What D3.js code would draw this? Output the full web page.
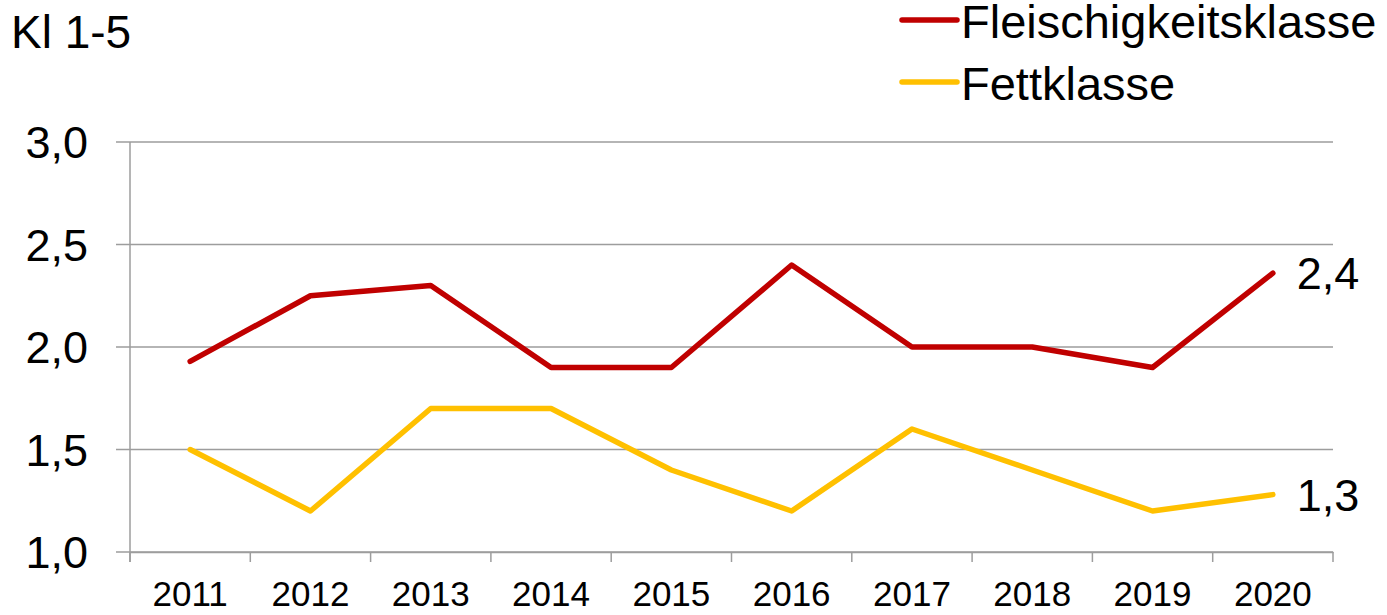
<!DOCTYPE html>
<html>
<head>
<meta charset="utf-8">
<script src="https://cdn.jsdelivr.net/npm/d3@7"></script>
<style>
  body { margin: 0; background: #fff; }
  text { font-family: "Liberation Sans", Arial, sans-serif; fill: #000; }
</style>
</head>
<body>
<div id="chart"></div>
<script>
const years = ["2011", "2012", "2013", "2014", "2015", "2016", "2017", "2018", "2019", "2020"];
const fleisch = [1.93, 2.25, 2.30, 1.90, 1.90, 2.40, 2.00, 2.00, 1.90, 2.36];
const fett = [1.50, 1.20, 1.70, 1.70, 1.40, 1.20, 1.60, 1.40, 1.20, 1.28];
const yTicks = [1.0, 1.5, 2.0, 2.5, 3.0];
const seriesNames = ["Fleischigkeitsklasse", "Fettklasse"];
const endLabels = ["2,4", "1,3"];

const W = 1387, H = 615;
const margin = { top: 142, right: 54, bottom: 63, left: 130 };
const width = W - margin.left - margin.right,
    height = H - margin.top - margin.bottom;

const colors = ["#C00000", "#FFC000"];
const fmt = d => d3.format(".1f")(d).replace(".", ",");

const svg = d3.select("#chart").append("svg")
    .attr("width", W)
    .attr("height", H);

const g = svg.append("g")
    .attr("transform", `translate(${margin.left},${margin.top})`);

const x = d3.scaleBand().domain(years).range([0, width]);
const y = d3.scaleLinear().domain([1, 3]).range([height, 0]);

// gridlines
g.append("g")
    .selectAll("line")
    .data(yTicks)
    .join("line")
    .attr("x1", -14)
    .attr("x2", width)
    .attr("y1", d => y(d))
    .attr("y2", d => y(d))
    .attr("stroke", "#9d9d9d")
    .attr("stroke-width", 1.5);

// y axis line
g.append("line")
    .attr("x1", 0).attr("x2", 0)
    .attr("y1", 0).attr("y2", height + 10)
    .attr("stroke", "#9d9d9d")
    .attr("stroke-width", 1.5);

// y labels
g.append("g")
    .selectAll("text")
    .data(yTicks)
    .join("text")
    .attr("x", -42)
    .attr("y", d => y(d))
    .attr("dy", "0.36em")
    .attr("text-anchor", "end")
    .attr("font-size", 45)
    .text(fmt);

// x axis
const xAxis = d3.axisBottom(x).tickSize(0).tickPadding(0);
const xg = g.append("g")
    .attr("transform", `translate(0,${height})`)
    .call(xAxis);
xg.select(".domain").attr("stroke", "#9d9d9d").attr("stroke-width", 1.5);
xg.selectAll(".tick text")
    .attr("font-size", 35)
    .attr("font-family", "Liberation Sans, Arial, sans-serif")
    .attr("fill", "#000")
    .attr("dy", 0)
    .attr("y", 54);

// category separators
const bounds = years.map(d => x(d)).concat([width]);
xg.selectAll(".sep")
    .data(bounds)
    .join("line")
    .attr("class", "sep")
    .attr("x1", d => d).attr("x2", d => d)
    .attr("y1", 0).attr("y2", 10)
    .attr("stroke", "#9d9d9d")
    .attr("stroke-width", 1.5);

// lines
const line = d3.line()
    .x((d, i) => x(years[i]) + x.bandwidth() / 2)
    .y(d => y(d));

[fleisch, fett].forEach((s, k) => {
    g.append("path")
        .datum(s)
        .attr("fill", "none")
        .attr("stroke", colors[k])
        .attr("stroke-width", 5.5)
        .attr("stroke-linejoin", "round")
        .attr("stroke-linecap", "round")
        .attr("d", line);

    g.append("text")
        .attr("x", x(years[years.length - 1]) + x.bandwidth() / 2 + 24)
        .attr("y", y(s[s.length - 1]))
        .attr("dy", "0.36em")
        .attr("font-size", 45)
        .text(endLabels[k]);
});

// y title
svg.append("text")
    .attr("x", 11)
    .attr("y", 48)
    .attr("font-size", 46)
    .text("Kl 1-5");

// legend
const legend = svg.append("g")
    .selectAll("g")
    .data(seriesNames)
    .join("g")
    .attr("transform", (d, i) => `translate(902,${20 + i * 62})`);

legend.append("line")
    .attr("x1", 0).attr("x2", 55)
    .attr("stroke", (d, i) => colors[i])
    .attr("stroke-width", 5.5)
    .attr("stroke-linecap", "round");

legend.append("text")
    .attr("x", 59)
    .attr("dy", "0.38em")
    .attr("font-size", 47)
    .text(d => d);
</script>
</body>
</html>
